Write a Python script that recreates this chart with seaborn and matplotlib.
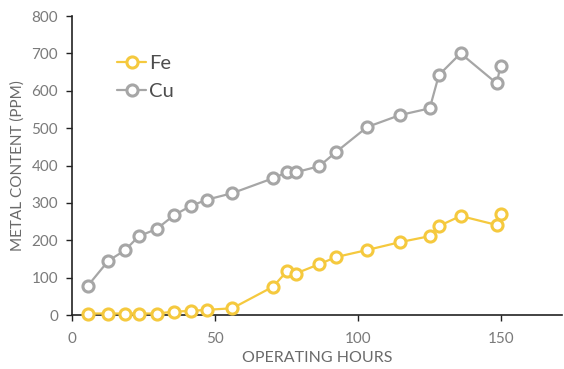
import matplotlib
matplotlib.use("Agg")
import matplotlib.pyplot as plt
import seaborn as sns
import pandas as pd

# Operating hours at each oil sample
hours = [5.5, 12.7, 18.5, 23.4, 29.6, 35.7, 41.6, 47.4, 56.1, 70.4, 75.3, 78.3,
         86.5, 92.4, 103.3, 114.8, 125.2, 128.4, 136.0, 148.6, 150.0]
# Metal content in ppm
fe_ppm = [4, 4, 4, 4, 4, 9, 11, 14, 18, 76, 118, 111,
          136, 155, 174, 195, 211, 238, 265, 241, 270]
cu_ppm = [78, 145, 173, 211, 230, 267, 292, 309, 326, 366, 382, 382,
          398, 436, 503, 535, 553, 642, 700, 620, 666]

series_names = ["Fe", "Cu"]
series_colors = ["#F5C93E", "#A6A6A6"]
x_ticks = [0, 50, 100, 150]
y_ticks = [0, 100, 200, 300, 400, 500, 600, 700, 800]

sns.set_theme(style="white")
plt.rcParams["font.family"] = ["Lato", "DejaVu Sans"]

fig = plt.figure(figsize=(5.64, 3.69), dpi=100)
ax = fig.add_axes([0.1277, 0.1463, 0.8688, 0.8103])

df = pd.DataFrame({
    "hours": hours * 2,
    "ppm": fe_ppm + cu_ppm,
    "metal": ["Fe"] * len(hours) + ["Cu"] * len(hours),
})

for name, color in zip(series_names, series_colors):
    sub = df[df["metal"] == name]
    sns.lineplot(data=sub, x="hours", y="ppm", ax=ax, color=color,
                 marker="o", markersize=8, markerfacecolor="white",
                 markeredgecolor=color, markeredgewidth=2.2, linewidth=1.6,
                 label=name, sort=False, clip_on=False, zorder=3)

ax.set_xlim(0, 171.5)
ax.set_ylim(0, 800)
ax.set_xticks(x_ticks)
ax.set_yticks(y_ticks)

tick_color = "#7A7A7A"
label_color = "#6A6A6A"
ax.tick_params(axis="both", direction="out", length=4, width=1,
               color="#222222", labelsize=11, labelcolor=tick_color,
               bottom=True, left=True)
ax.tick_params(axis="x", pad=8)
ax.tick_params(axis="y", pad=6)
ax.set_xlabel("OPERATING HOURS", fontsize=11.5, color=label_color, labelpad=4)
ax.set_ylabel("METAL CONTENT (PPM)", fontsize=11, color=label_color, labelpad=5)

for side in ["top", "right"]:
    ax.spines[side].set_visible(False)
for side in ["left", "bottom"]:
    ax.spines[side].set_color("#222222")
    ax.spines[side].set_linewidth(1.2)

leg = ax.legend(loc="upper left", bbox_to_anchor=(0.055, 0.93), frameon=False,
                fontsize=14.5, handlelength=1.45, handletextpad=0.15,
                labelspacing=0.55)
for text in leg.get_texts():
    text.set_color("#4D4D4D")

fig.savefig("out.png", dpi=100)
